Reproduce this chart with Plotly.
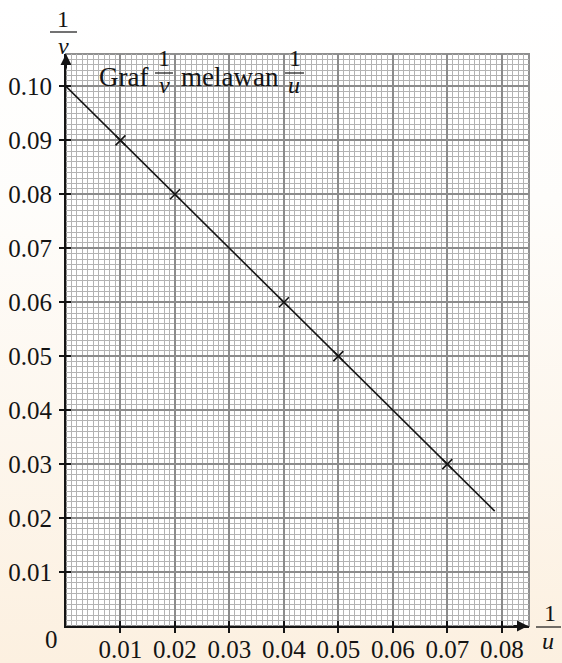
import base64
import plotly.graph_objects as go

# ---- data ----
inv_u = [0.01, 0.02, 0.04, 0.05, 0.07]
inv_v = [0.09, 0.08, 0.06, 0.05, 0.03]
fit_u = [-0.0012, 0.0787]
fit_v = [0.1012, 0.0213]
x_ticks = [0.01, 0.02, 0.03, 0.04, 0.05, 0.06, 0.07, 0.08]
y_ticks = [0.01, 0.02, 0.03, 0.04, 0.05, 0.06, 0.07, 0.08, 0.09, 0.10]
x_range = [0, 0.085]
y_range = [0, 0.106]

# ---- geometry ----
W, H = 562, 663
L, R, T, B = 66, 33, 54, 37
pw = W - L - R
ph = H - T - B


def px(x):
    return (x - L) / pw


def py(y):
    return (H - B - y) / ph


SERIF = "Liberation Serif"
BLACK = "#141414"

fig = go.Figure()
fig.add_trace(go.Scatter(x=fit_u, y=fit_v, mode="lines",
                         line=dict(color=BLACK, width=1.6),
                         showlegend=False, hoverinfo="skip"))
fig.add_trace(go.Scatter(x=inv_u, y=inv_v, mode="markers",
                         marker=dict(symbol="x-thin", size=10,
                                     line=dict(color=BLACK, width=1.6)),
                         showlegend=False))
# invisible trace for the overlay axes (inner halves of tick marks)
fig.add_trace(go.Scatter(x=[None], y=[None], xaxis="x2", yaxis="y2",
                         showlegend=False, hoverinfo="skip"))

# ---- background gradient ----
svg = ('<svg xmlns="http://www.w3.org/2000/svg" width="10" height="100" '
       'viewBox="0 0 10 100" preserveAspectRatio="none">'
       '<defs><linearGradient id="g" x1="0" y1="0" x2="0" y2="1">'
       '<stop offset="0" stop-color="#ffffff"/>'
       '<stop offset="0.3" stop-color="#fefdfb"/>'
       '<stop offset="1" stop-color="#fcf0e0"/>'
       '</linearGradient></defs>'
       '<rect width="10" height="100" fill="url(#g)"/></svg>')
src = "data:image/svg+xml;base64," + base64.b64encode(svg.encode()).decode()

images = [dict(source=src, xref="paper", yref="paper",
               x=px(0), y=py(0), sizex=W / pw, sizey=H / ph,
               xanchor="left", yanchor="top", sizing="stretch",
               layer="below")]

shapes = [
    dict(type="rect", xref="paper", yref="paper", x0=0, x1=1, y0=0, y1=1,
         fillcolor="white", line=dict(width=0), layer="below"),
    dict(type="rect", xref="paper", yref="paper", x0=0, x1=1, y0=0, y1=1,
         fillcolor="rgba(0,0,0,0)", line=dict(color="#8f8f8f", width=2),
         layer="below"),
]

annotations = []


def text(s, cx, cy, size, xanchor="center"):
    annotations.append(dict(text=s, xref="paper", yref="paper",
                            x=px(cx), y=py(cy), xanchor=xanchor,
                            yanchor="middle", showarrow=False, borderpad=0,
                            font=dict(family=SERIF, size=size, color=BLACK)))


def frac(den, cx, num_cy, bar_y, bar_x0, bar_x1, den_cx, den_cy, size=24):
    text("1", cx, num_cy, size)
    text("<i>%s</i>" % den, den_cx, den_cy, size)
    shapes.append(dict(type="line", xref="paper", yref="paper",
                       x0=px(bar_x0), x1=px(bar_x1), y0=py(bar_y), y1=py(bar_y),
                       line=dict(color=BLACK, width=1.2), layer="above"))


# title
text("Graf", 98, 77, 27, xanchor="left")
frac("v", 164, 58, 73, 155, 173, 164, 85)
text("melawan", 180, 77, 27, xanchor="left")
frac("u", 295, 58, 73, 285, 304, 294, 85)

# axis titles
frac("v", 63, 19, 32, 50, 77, 63, 46)
frac("u", 550, 613, 627, 536, 561, 548, 641)

# origin label
text("0", 51, 640, 25)

# axis arrows
annotations.append(dict(text="", xref="paper", yref="paper", x=0, y=py(54),
                        ax=0, ay=16, showarrow=True, arrowhead=2,
                        arrowsize=1.1, arrowwidth=2, arrowcolor=BLACK))
annotations.append(dict(text="", xref="paper", yref="paper", x=px(528), y=0,
                        ax=-16, ay=0, showarrow=True, arrowhead=2,
                        arrowsize=1.1, arrowwidth=2, arrowcolor=BLACK))

tickfont = dict(family=SERIF, size=25, color=BLACK)
common = dict(showline=True, linecolor=BLACK, linewidth=2,
              ticks="outside", ticklen=5, tickwidth=1.5, tickcolor=BLACK,
              tickformat=".2f", tickfont=tickfont, zeroline=False,
              showgrid=True, gridcolor="#8c8c8c", gridwidth=1.5,
              minor=dict(dtick=0.001, tick0=0, showgrid=True,
                         gridcolor="#b3b3b3", gridwidth=1, ticks=""),
              fixedrange=True, layer="above traces", automargin=False)

overlay = dict(ticks="inside", ticklen=5, tickwidth=1.5, tickcolor=BLACK,
               showticklabels=False, showgrid=False, showline=False,
               zeroline=False, fixedrange=True, automargin=False,
               tickmode="array")

fig.update_layout(
    width=W, height=H,
    margin=dict(l=L, r=R, t=T, b=B, pad=0, autoexpand=False),
    paper_bgcolor="white", plot_bgcolor="rgba(0,0,0,0)",
    xaxis=dict(range=x_range, tickmode="array", tickvals=x_ticks,
               ticklabelstandoff=-5, **common),
    yaxis=dict(range=y_range, tickmode="array", tickvals=y_ticks,
               ticklabelstandoff=2, **common),
    xaxis2=dict(range=x_range, overlaying="x", anchor="y2", side="bottom",
                tickvals=x_ticks, **overlay),
    yaxis2=dict(range=y_range, overlaying="y", anchor="x2", side="left",
                tickvals=y_ticks, **overlay),
    images=images, shapes=shapes, annotations=annotations,
    showlegend=False,
)

fig.write_html("out.html")
